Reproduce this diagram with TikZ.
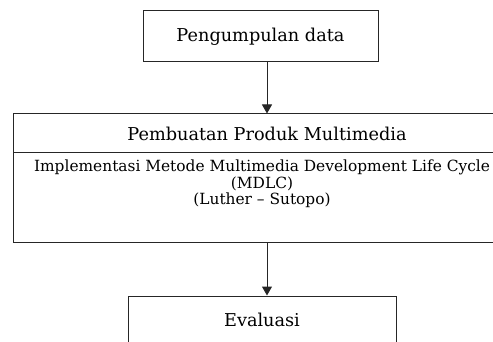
\documentclass[tikz,border=0pt]{standalone}
\usepackage{fontspec}
\setmainfont{DejaVu Serif}
\usetikzlibrary{arrows.meta}
\tikzset{
  box/.style={draw=black!85, line width=1pt, inner sep=0pt},
  flow/.style={-{Triangle[length=9pt,width=10pt]}, line width=1pt, draw=black!85},
  titlefont/.style={font=\fontsize{17.7}{20}\selectfont},
  bodyfont/.style={font=\fontsize{15.4}{16.5}\selectfont}
}
\begin{document}
\begin{tikzpicture}[x=1pt,y=-1pt]
\useasboundingbox (0,0) rectangle (493,342);
\clip (0,0) rectangle (493,342);
\fill[white] (0,0) rectangle (493,342);
\coordinate (ax) at (267,0);
\node[box, titlefont, minimum width=235pt, minimum height=51pt] (collect) at (260.5,36.5) {Pengumpulan data};
\node[box, titlefont, minimum width=508pt, minimum height=39pt] (prodtitle) at (267,133.5) {Pembuatan Produk Multimedia};
\node[box, minimum width=508pt, minimum height=89pt] (prodbody) at (267,197.5) {};
\node[bodyfont, align=center] (method) at (262,184) {Implementasi Metode Multimedia Development Life Cycle\\(MDLC)\\(Luther -- Sutopo)};
\node[box, titlefont, minimum width=268pt, minimum height=48pt] (eval) at (262,320) {Evaluasi};
\draw[flow] (collect.south -| ax) -- (prodtitle.north -| ax);
\draw[flow] (prodbody.south -| ax) -- (eval.north -| ax);
\end{tikzpicture}
\end{document}
